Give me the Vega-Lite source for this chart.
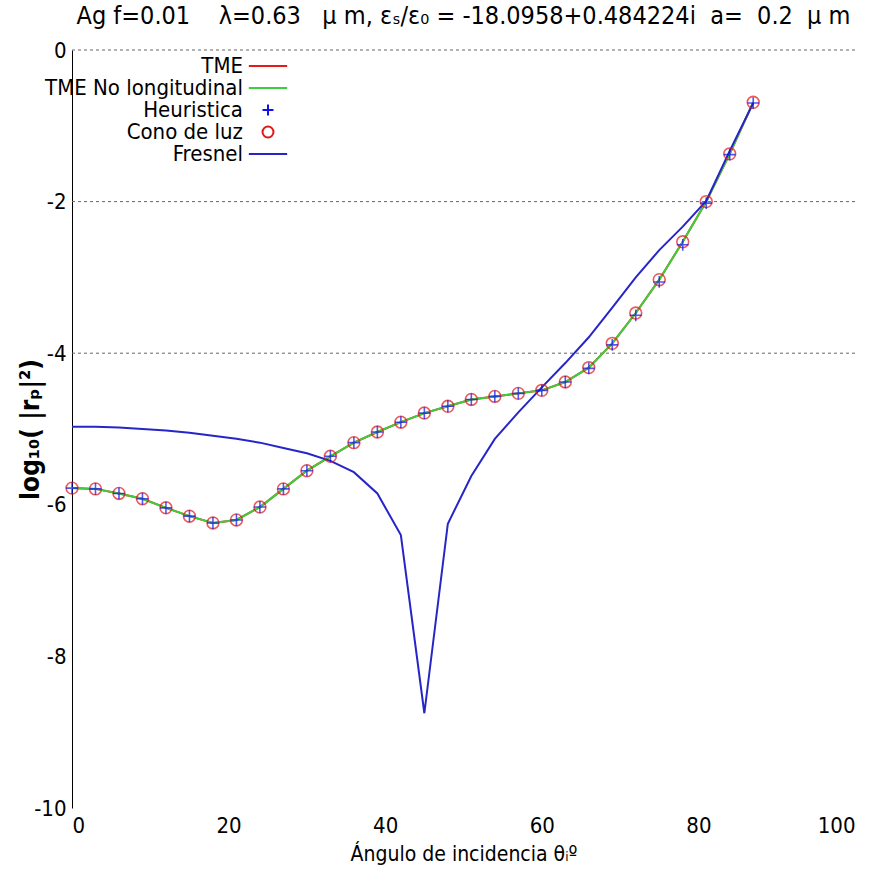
{
  "$schema": "https://vega.github.io/schema/vega-lite/v6.json",
  "width": 783,
  "height": 758,
  "autosize": {"type": "none"},
  "padding": {"left": 72, "top": 50, "right": 27, "bottom": 70},
  "title": {
    "text": "Ag f=0.01\u00a0\u00a0\u00a0\u00a0λ=0.63\u00a0\u00a0\u00a0μ m, εₛ/ε₀ = -18.0958+0.484224i\u00a0\u00a0a=\u00a0\u00a00.2\u00a0\u00a0μ m",
    "fontSize": 25,
    "font": "DejaVu Sans Condensed",
    "fontWeight": "normal",
    "anchor": "middle",
    "offset": 10,
    "color": "#000"
  },
  "config": {
    "view": {"stroke": null},
    "font": "DejaVu Sans Condensed",
    "axis": {"labelFont": "DejaVu Sans Condensed", "titleFont": "DejaVu Sans Condensed", "labelColor": "#000", "titleColor": "#000"}
  },
  "datasets": {
    "curvas": [
      {"t": 0, "TME": -5.78, "TME No longitudinal": -5.78, "Heuristica": -5.78, "Cono de luz": -5.78, "Fresnel": -4.97},
      {"t": 3, "TME": -5.79, "TME No longitudinal": -5.79, "Heuristica": -5.79, "Cono de luz": -5.79, "Fresnel": -4.97},
      {"t": 6, "TME": -5.85, "TME No longitudinal": -5.85, "Heuristica": -5.85, "Cono de luz": -5.85, "Fresnel": -4.98},
      {"t": 9, "TME": -5.92, "TME No longitudinal": -5.92, "Heuristica": -5.92, "Cono de luz": -5.92, "Fresnel": -5.0},
      {"t": 12, "TME": -6.04, "TME No longitudinal": -6.04, "Heuristica": -6.04, "Cono de luz": -6.04, "Fresnel": -5.02},
      {"t": 15, "TME": -6.15, "TME No longitudinal": -6.15, "Heuristica": -6.15, "Cono de luz": -6.15, "Fresnel": -5.05},
      {"t": 18, "TME": -6.24, "TME No longitudinal": -6.24, "Heuristica": -6.24, "Cono de luz": -6.24, "Fresnel": -5.09},
      {"t": 21, "TME": -6.2, "TME No longitudinal": -6.2, "Heuristica": -6.2, "Cono de luz": -6.2, "Fresnel": -5.13},
      {"t": 24, "TME": -6.03, "TME No longitudinal": -6.03, "Heuristica": -6.03, "Cono de luz": -6.03, "Fresnel": -5.18},
      {"t": 27, "TME": -5.79, "TME No longitudinal": -5.79, "Heuristica": -5.79, "Cono de luz": -5.79, "Fresnel": -5.25},
      {"t": 30, "TME": -5.55, "TME No longitudinal": -5.55, "Heuristica": -5.55, "Cono de luz": -5.55, "Fresnel": -5.32},
      {"t": 33, "TME": -5.36, "TME No longitudinal": -5.36, "Heuristica": -5.36, "Cono de luz": -5.36, "Fresnel": -5.42},
      {"t": 36, "TME": -5.18, "TME No longitudinal": -5.18, "Heuristica": -5.18, "Cono de luz": -5.18, "Fresnel": -5.57},
      {"t": 39, "TME": -5.04, "TME No longitudinal": -5.04, "Heuristica": -5.04, "Cono de luz": -5.04, "Fresnel": -5.85},
      {"t": 42, "TME": -4.91, "TME No longitudinal": -4.91, "Heuristica": -4.91, "Cono de luz": -4.91, "Fresnel": -6.4},
      {"t": 45, "TME": -4.79, "TME No longitudinal": -4.79, "Heuristica": -4.79, "Cono de luz": -4.79, "Fresnel": -8.75},
      {"t": 48, "TME": -4.7, "TME No longitudinal": -4.7, "Heuristica": -4.7, "Cono de luz": -4.7, "Fresnel": -6.25},
      {"t": 51, "TME": -4.61, "TME No longitudinal": -4.61, "Heuristica": -4.61, "Cono de luz": -4.61, "Fresnel": -5.62},
      {"t": 54, "TME": -4.57, "TME No longitudinal": -4.57, "Heuristica": -4.57, "Cono de luz": -4.57, "Fresnel": -5.13},
      {"t": 57, "TME": -4.53, "TME No longitudinal": -4.53, "Heuristica": -4.53, "Cono de luz": -4.53, "Fresnel": -4.78},
      {"t": 60, "TME": -4.49, "TME No longitudinal": -4.49, "Heuristica": -4.49, "Cono de luz": -4.49, "Fresnel": -4.45},
      {"t": 63, "TME": -4.38, "TME No longitudinal": -4.38, "Heuristica": -4.38, "Cono de luz": -4.38, "Fresnel": -4.13},
      {"t": 66, "TME": -4.19, "TME No longitudinal": -4.19, "Heuristica": -4.2, "Cono de luz": -4.19, "Fresnel": -3.79},
      {"t": 69, "TME": -3.87, "TME No longitudinal": -3.87, "Heuristica": -3.89, "Cono de luz": -3.87, "Fresnel": -3.4},
      {"t": 72, "TME": -3.47, "TME No longitudinal": -3.47, "Heuristica": -3.5, "Cono de luz": -3.47, "Fresnel": -3.0},
      {"t": 75, "TME": -3.03, "TME No longitudinal": -3.03, "Heuristica": -3.06, "Cono de luz": -3.03, "Fresnel": -2.64},
      {"t": 78, "TME": -2.53, "TME No longitudinal": -2.53, "Heuristica": -2.57, "Cono de luz": -2.53, "Fresnel": -2.33},
      {"t": 81, "TME": -2.0, "TME No longitudinal": -2.0, "Heuristica": -2.02, "Cono de luz": -2.0, "Fresnel": -1.99},
      {"t": 84, "TME": -1.37, "TME No longitudinal": -1.37, "Heuristica": -1.38, "Cono de luz": -1.37, "Fresnel": -1.33},
      {"t": 87, "TME": -0.69, "TME No longitudinal": -0.69, "Heuristica": -0.7, "Cono de luz": -0.69, "Fresnel": -0.7}
    ],
    "rejilla": [{"g": 0}, {"g": -2}, {"g": -4}]
  },
  "layer": [
    {
      "data": {"name": "rejilla"},
      "mark": {"type": "rule", "color": "#666", "strokeDash": [3, 3], "strokeWidth": 1},
      "encoding": {
        "y": {"field": "g", "type": "quantitative", "scale": {"domain": [-10, 0], "nice": false}}
      }
    },
    {
      "data": {"name": "curvas"},
      "transform": [
        {"fold": ["TME", "TME No longitudinal", "Heuristica", "Cono de luz", "Fresnel"], "as": ["serie", "val"]},
        {"filter": "datum.serie === 'Fresnel' || datum.serie === 'TME' || datum.serie === 'TME No longitudinal'"}
      ],
      "mark": {"type": "line", "strokeWidth": 2},
      "encoding": {
        "x": {
          "field": "t", "type": "quantitative",
          "scale": {"domain": [0, 100], "nice": false},
          "axis": {"title": "Ángulo de incidencia θᵢº", "values": [0, 20, 40, 60, 80, 100], "format": "d", "domain": false, "ticks": false, "grid": false, "labelFontSize": 22, "labelPadding": 7, "titleFontSize": 21, "titleFontWeight": "normal", "titlePadding": 7}
        },
        "y": {
          "field": "val", "type": "quantitative",
          "scale": {"domain": [-10, 0], "nice": false},
          "axis": {"title": "log₁₀( |rₚ|²)", "values": [0, -2, -4, -6, -8, -10], "labelExpr": "'' + datum.value", "domain": true, "domainColor": "#000", "ticks": false, "grid": false, "labelFontSize": 22, "labelPadding": 6, "titleFontSize": 26, "titleFontWeight": "bold", "titlePadding": -10}
        },
        "stroke": {
          "field": "serie", "type": "nominal",
          "scale": {"domain": ["TME", "TME No longitudinal", "Heuristica", "Cono de luz", "Fresnel"], "range": ["#e81818", "#3ccf3c", "#1010ee", "#e01818", "#2626c8"]},
          "legend": {
            "orient": "none", "legendX": 185, "legendY": 5, "title": null,
            "labelAlign": "right", "labelOffset": -36, "labelFontSize": 22, "labelFont": "DejaVu Sans Condensed", "labelLimit": 0,
            "rowPadding": -5, "symbolStrokeWidth": 2, "symbolSize": 120, "symbolFillColor": "transparent",
            "encode": {"symbols": {"update": {"fill": {"value": "transparent"}}}}
          }
        },
        "order": {"field": "t", "type": "quantitative"}
      }
    },
    {
      "data": {"name": "curvas"},
      "transform": [
        {"fold": ["Cono de luz", "Heuristica"], "as": ["serie", "val"]}
      ],
      "mark": {"type": "point", "filled": false, "size": 140, "strokeWidth": 1.6},
      "encoding": {
        "x": {"field": "t", "type": "quantitative"},
        "y": {"field": "val", "type": "quantitative"},
        "stroke": {"field": "serie", "type": "nominal"},
        "shape": {
          "field": "serie", "type": "nominal",
          "scale": {"domain": ["TME", "TME No longitudinal", "Heuristica", "Cono de luz", "Fresnel"], "range": ["M-3.5,0H3.5", "M-3.5,0H3.5", "M-1,0H1M0,-1V1", "circle", "M-3.5,0H3.5"]}
        }
      }
    }
  ]
}
